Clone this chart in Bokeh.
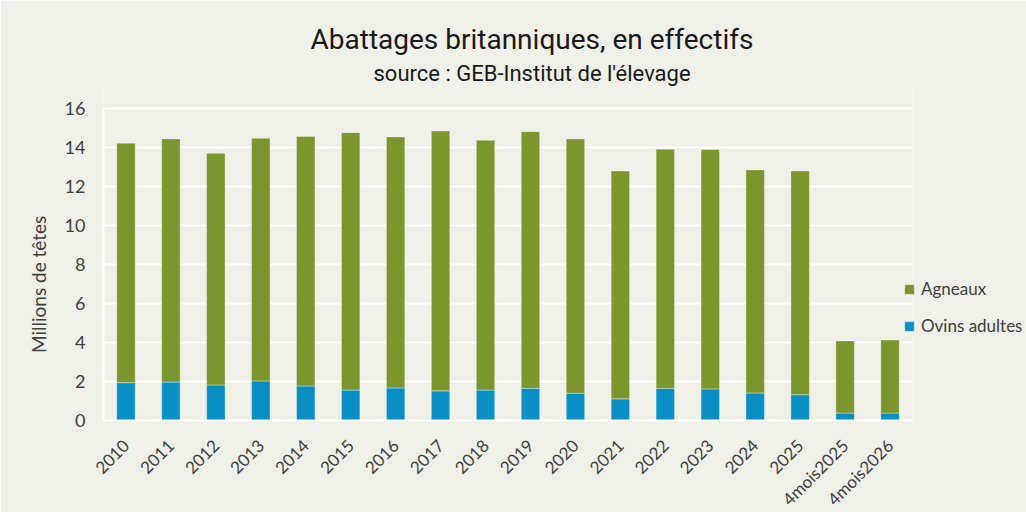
from math import pi
from bokeh.plotting import figure
from bokeh.models import Legend, LegendItem, FactorRange, Range1d, ColumnDataSource, Title
from bokeh.embed import file_html
from bokeh.resources import INLINE

categories = ["2010", "2011", "2012", "2013", "2014", "2015", "2016", "2017", "2018",
              "2019", "2020", "2021", "2022", "2023", "2024", "2025", "4mois2025", "4mois2026"]
ovins_adultes = [1.94, 1.97, 1.82, 2.03, 1.77, 1.56, 1.67, 1.52, 1.56,
                 1.65, 1.40, 1.11, 1.65, 1.62, 1.41, 1.32, 0.38, 0.38]
agneaux = [12.28, 12.47, 11.88, 12.44, 12.80, 13.20, 12.87, 13.33, 12.81,
           13.16, 13.04, 11.68, 12.26, 12.28, 11.44, 11.48, 3.70, 3.75]
y_ticks = [0, 2, 4, 6, 8, 10, 12, 14, 16]

BG = "#eff0e8"
GREEN = "#7a962c"
BLUE = "#0a8fc4"
TXT = "#404040"
FONT = "Lato"

src = ColumnDataSource(dict(cat=categories, ovins=ovins_adultes, agneaux=agneaux))

# frame extends a little above the 16 gridline to leave room for the titles
p = figure(frame_width=809, frame_height=334, output_backend="svg", toolbar_location=None,
           x_range=FactorRange(*categories, range_padding=0), y_range=Range1d(0, 16 * 334 / 312),
           min_border_left=103, min_border_right=114, min_border_top=86, min_border_bottom=92)
p.background_fill_color = BG
p.border_fill_color = BG
p.outline_line_color = None

rs = p.vbar_stack(["ovins", "agneaux"], x="cat", width=0.41, color=[BLUE, GREEN],
                  line_color="white", line_alpha=0.35, line_width=1, source=src)

p.xgrid.grid_line_color = None
p.ygrid.grid_line_color = "white"
p.ygrid.grid_line_width = 2
p.yaxis.ticker = y_ticks
p.yaxis.bounds = (0, 16)

for ax in (p.xaxis, p.yaxis):
    ax.major_tick_line_color = None
    ax.minor_tick_line_color = None
    ax.axis_line_color = "white"
    ax.axis_line_width = 2
    ax.major_label_text_color = TXT
    ax.major_label_text_font = FONT

p.yaxis.major_label_text_font_size = "18px"
p.xaxis.major_label_text_font_size = "17px"
p.yaxis.major_label_standoff = 12
p.yaxis.axis_label = "Millions de têtes\u2003\u2003\u2003\u2003\u2005"
p.yaxis.axis_label_text_font = FONT
p.yaxis.axis_label_text_font_style = "normal"
p.yaxis.axis_label_text_font_size = "19px"
p.yaxis.axis_label_text_color = TXT
p.yaxis.axis_label_standoff = 12
p.xaxis.major_label_orientation = pi / 4
p.xaxis.major_label_standoff = 16

legend = Legend(items=[LegendItem(label="Agneaux", renderers=[rs[1]]),
                       LegendItem(label="Ovins adultes", renderers=[rs[0]])],
                location=(-9, 84), orientation="vertical",
                background_fill_alpha=0, border_line_alpha=0, padding=0, margin=0,
                glyph_width=12, glyph_height=12, label_standoff=6, spacing=16,
                label_text_font=FONT, label_text_font_size="17px", label_text_color=TXT)
p.add_layout(legend, "right")

p.add_layout(Title(text="source : GEB-Institut de l'élevage", align="left", offset=270,
                   text_font="Roboto", text_font_size="22px", text_font_style="normal",
                   text_color="#1a1a1a", standoff=2), "above")
p.add_layout(Title(text="Abattages britanniques, en effectifs", align="left", offset=207,
                   text_font="Roboto", text_font_size="28px", text_font_style="normal",
                   text_color="#1a1a1a", standoff=3), "above")

open("out.html", "w").write(file_html(p, INLINE))
